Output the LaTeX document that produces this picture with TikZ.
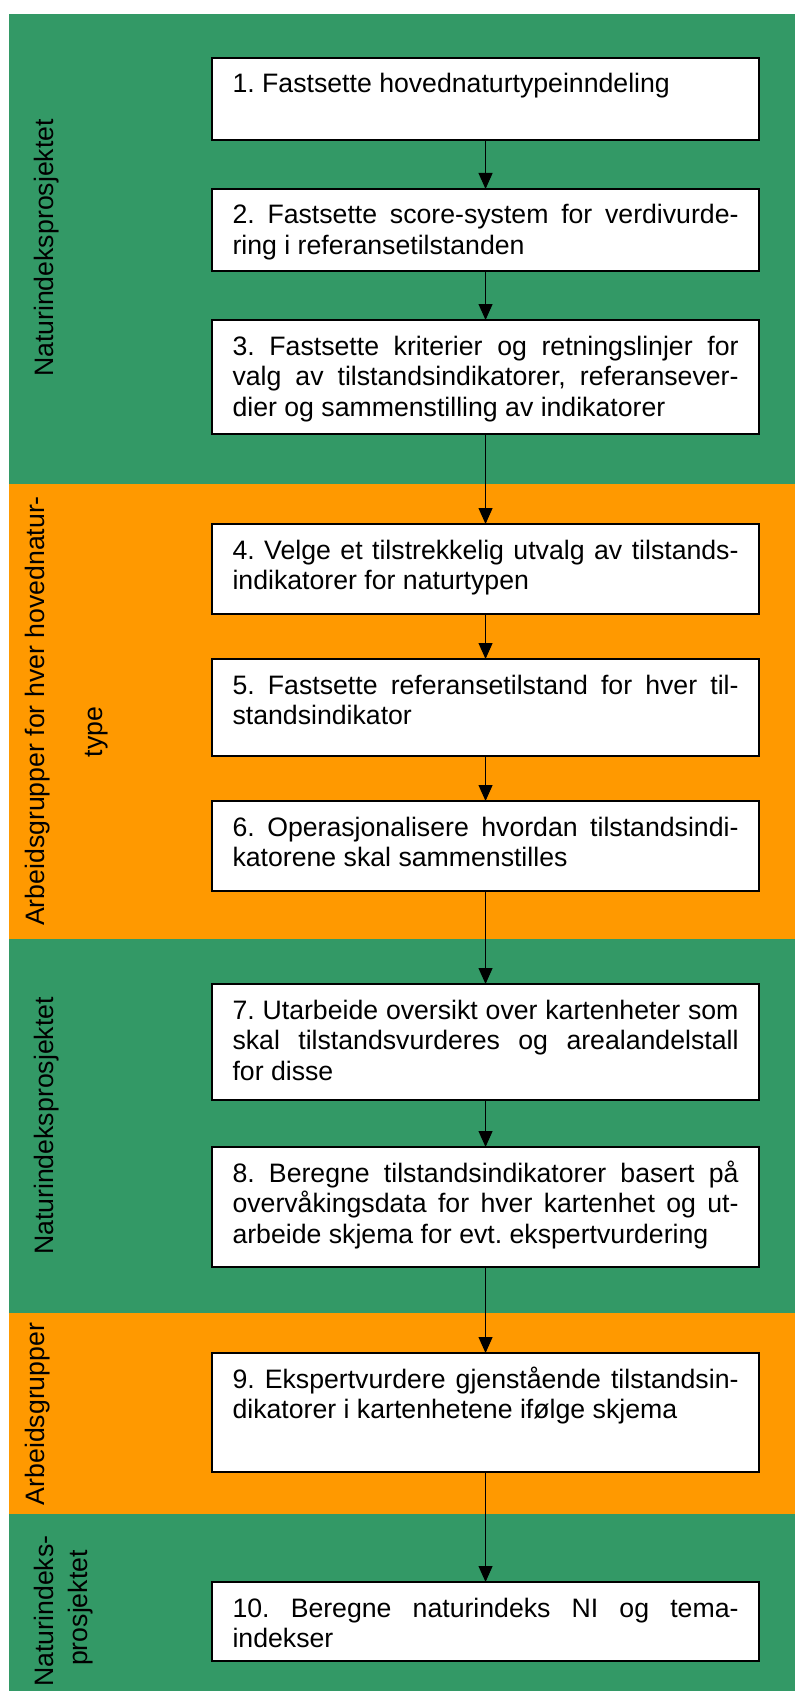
\documentclass[tikz,border=0pt]{standalone}
\usepackage{fontspec}
\setmainfont{Liberation Sans}
\usetikzlibrary{arrows.meta}
\definecolor{bandgreen}{RGB}{51,153,102}
\definecolor{bandorange}{RGB}{255,153,0}
\frenchspacing
\newcommand\jl[1]{\makebox[379.5pt][s]{#1}}
\newcommand\boxtext[2]{\parbox[c][\dimexpr #1pt*3/4\relax][t]{379.5pt}{\frenchspacing\rule{0pt}{26.25pt}#2}}
\tikzset{
  stepbox/.style={draw=black, fill=white, line width=1.1pt, inner xsep=15.4pt, inner ysep=0pt,
    outer sep=0pt, anchor=north west, font=\fontsize{20pt}{23pt}\selectfont\frenchspacing},
  flowarrow/.style={line width=0.8pt, -{Triangle[length=12pt,width=10.5pt]}},
  lanelabel/.style={rotate=90, anchor=base, inner sep=0pt, font=\fontsize{20pt}{24pt}\selectfont},
  greenband/.style={fill=bandgreen},
  orangeband/.style={fill=bandorange}
}
\begin{document}
\begin{tikzpicture}[x=0.75pt,y=-0.75pt]
\useasboundingbox (0,0) rectangle (795,1691);
% bands
\path[greenband] (9,14) rectangle (795,484);
\path[orangeband] (9,484) rectangle (795,939);
\path[greenband] (9,939) rectangle (795,1313);
\path[orangeband] (9,1313) rectangle (795,1514);
\path[greenband] (9,1514) rectangle (795,1691);
% lane labels
\node[lanelabel] (l1) at (53,248) {Naturindeksprosjektet};
\node[lanelabel] (l2a) at (44,711) {Arbeidsgrupper for hver hovednatur-};
\node[lanelabel] (l2b) at (102,732) {type};
\node[lanelabel] (l3) at (53,1126) {Naturindeksprosjektet};
\node[lanelabel] (l4) at (44,1414) {Arbeidsgrupper};
\node[lanelabel] (l5a) at (53,1611) {Naturindeks-};
\node[lanelabel] (l5b) at (87,1608) {prosjektet};
% steps
\node[stepbox] (b1) at (212,58) {\boxtext{82}{1. Fastsette hovednaturtypeinndeling}};
\node[stepbox] (b2) at (212,189) {\boxtext{82}{\jl{2. Fastsette score-system for verdivurde-}\\ring i referansetilstanden}};
\node[stepbox] (b3) at (212,320) {\boxtext{114}{\jl{3. Fastsette kriterier og retningslinjer for}\\\jl{valg av tilstandsindikatorer, referansever-}\\dier og sammenstilling av indikatorer}};
\node[stepbox] (b4) at (212,524) {\boxtext{90}{\jl{4. Velge et tilstrekkelig utvalg av tilstands-}\\indikatorer for naturtypen}};
\node[stepbox] (b5) at (212,659) {\boxtext{97}{\jl{5. Fastsette referansetilstand for hver til-}\\standsindikator}};
\node[stepbox] (b6) at (212,801) {\boxtext{90}{\jl{6. Operasjonalisere hvordan tilstandsindi-}\\katorene skal sammenstilles}};
\node[stepbox] (b7) at (212,984) {\boxtext{116}{\jl{7. Utarbeide oversikt over kartenheter som}\\\jl{skal tilstandsvurderes og arealandelstall}\\for disse}};
\node[stepbox] (b8) at (212,1147) {\boxtext{120}{\jl{8. Beregne tilstandsindikatorer basert på}\\\jl{overvåkingsdata for hver kartenhet og ut-}\\arbeide skjema for evt. ekspertvurdering}};
\node[stepbox] (b9) at (212,1353) {\boxtext{119}{\jl{9. Ekspertvurdere gjenstående tilstandsin-}\\dikatorer i kartenhetene ifølge skjema}};
\node[stepbox] (b10) at (212,1582) {\boxtext{79}{\jl{10. Beregne naturindeks NI og tema-}\\indekser}};
% connectors
\draw[flowarrow] (b1) -- (b2);
\draw[flowarrow] (b2) -- (b3);
\draw[flowarrow] (b3) -- (b4);
\draw[flowarrow] (b4) -- (b5);
\draw[flowarrow] (b5) -- (b6);
\draw[flowarrow] (b6) -- (b7);
\draw[flowarrow] (b7) -- (b8);
\draw[flowarrow] (b8) -- (b9);
\draw[flowarrow] (b9) -- (b10);
\end{tikzpicture}
\end{document}
